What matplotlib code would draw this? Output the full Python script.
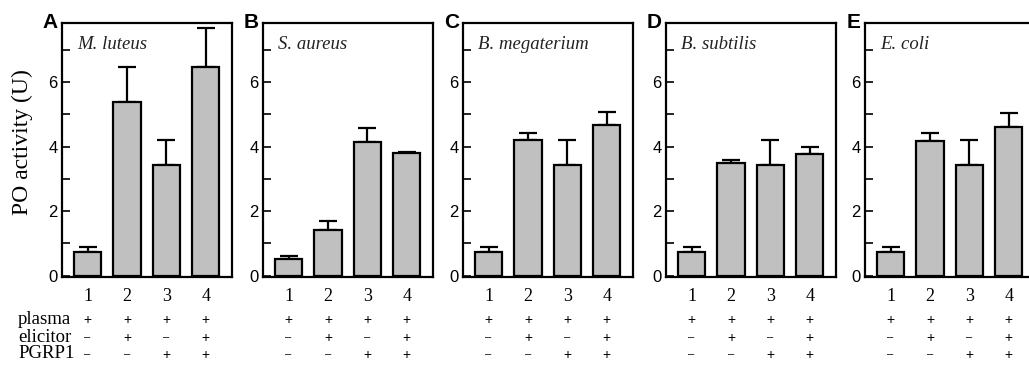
import numpy as np
import matplotlib
matplotlib.use("Agg")
import matplotlib.pyplot as plt
from matplotlib.transforms import blended_transform_factory

# panel data: mean PO activity and upper error
letters = ["A", "B", "C", "D", "E"]
species = ["M. luteus", "S. aureus", "B. megaterium", "B. subtilis", "E. coli"]
lanes = [1, 2, 3, 4]
means = [
    [0.73, 5.37, 3.43, 6.47],
    [0.53, 1.42, 4.13, 3.79],
    [0.73, 4.19, 3.43, 4.68],
    [0.73, 3.48, 3.43, 3.77],
    [0.72, 4.18, 3.44, 4.61],
]
errors = [
    [0.16, 1.10, 0.77, 1.19],
    [0.07, 0.28, 0.46, 0.04],
    [0.16, 0.22, 0.77, 0.39],
    [0.16, 0.11, 0.77, 0.22],
    [0.16, 0.24, 0.76, 0.44],
]
row_names = ["plasma", "elicitor", "PGRP1"]
row_signs = [
    ["+", "+", "+", "+"],
    ["-", "+", "-", "+"],
    ["-", "-", "+", "+"],
]

W, H = 1029, 368
SERIF = "Liberation Serif"
SANS = "Liberation Sans"

fig = plt.figure(figsize=(W / 100, H / 100), dpi=100)

# axes frames in pixels: left edges, width, bottom/top
lefts = [62, 263, 463, 666, 865]
ax_w = 170
ax_top, ax_bot = 23.3, 277.3
row_y = [320, 338, 355]


def px_rect(left):
    return [left / W, 1 - ax_bot / H, ax_w / W, (ax_bot - ax_top) / H]


for i in range(5):
    ax = fig.add_axes(px_rect(lefts[i]))
    yerr = [np.zeros(4), errors[i]]
    ax.bar(lanes, means[i], width=0.69, color="#c0c0c0", edgecolor="black",
           linewidth=1.6, zorder=3)
    ax.errorbar(lanes, means[i], yerr=yerr, fmt="none", ecolor="black",
                elinewidth=1.6, capsize=6.5, capthick=1.6, zorder=2)
    ax.set_xlim(0.35, 4.67)
    ax.set_ylim(-0.05, 7.82)

    for sp in ax.spines.values():
        sp.set_linewidth(1.6)

    ax.set_yticks(range(0, 8))
    ax.set_yticklabels(["0", "", "2", "", "4", "", "6", ""],
                       fontfamily=SANS, fontsize=12)
    ax.tick_params(axis="y", direction="in", length=5.5, width=1.2, pad=3)

    ax.set_xticks(lanes)
    ax.set_xticklabels([str(n) for n in lanes], fontfamily=SERIF, fontsize=13)
    ax.tick_params(axis="x", length=0, pad=8)

    ax.text(0.088, 0.917, species[i], transform=ax.transAxes, ha="left",
            va="center", fontfamily=SERIF, fontstyle="italic", fontsize=13.5,
            color="#222222")

    # panel letter at the top-left corner
    fig.text((lefts[i] - 4) / W, 1 - 28 / H, letters[i], ha="right",
             va="baseline", fontfamily=SANS, fontweight="bold", fontsize=15)

    # +/- table under each panel
    tr = blended_transform_factory(ax.transData, fig.transFigure)
    for r in range(3):
        for j in range(4):
            s = row_signs[r][j]
            if s == "+":
                fig.text(lanes[j], 1 - row_y[r] / H, "+", transform=tr,
                         ha="center", va="center", fontfamily=SANS, fontsize=10)
            else:
                fig.text(lanes[j], 1 - (row_y[r] - 1) / H, "\u2013", transform=tr,
                         ha="center", va="center", fontfamily=SANS, fontsize=8)

fig.text(22 / W, 1 - 142 / H, "PO activity (U)", rotation=90, ha="center",
         va="center", fontfamily=SERIF, fontsize=17)

for r in range(3):
    fig.text(18 / W, 1 - (row_y[r] - 1) / H, row_names[r], ha="left",
             va="center", fontfamily=SERIF, fontsize=13.5)

fig.savefig("out.png", dpi=100)
